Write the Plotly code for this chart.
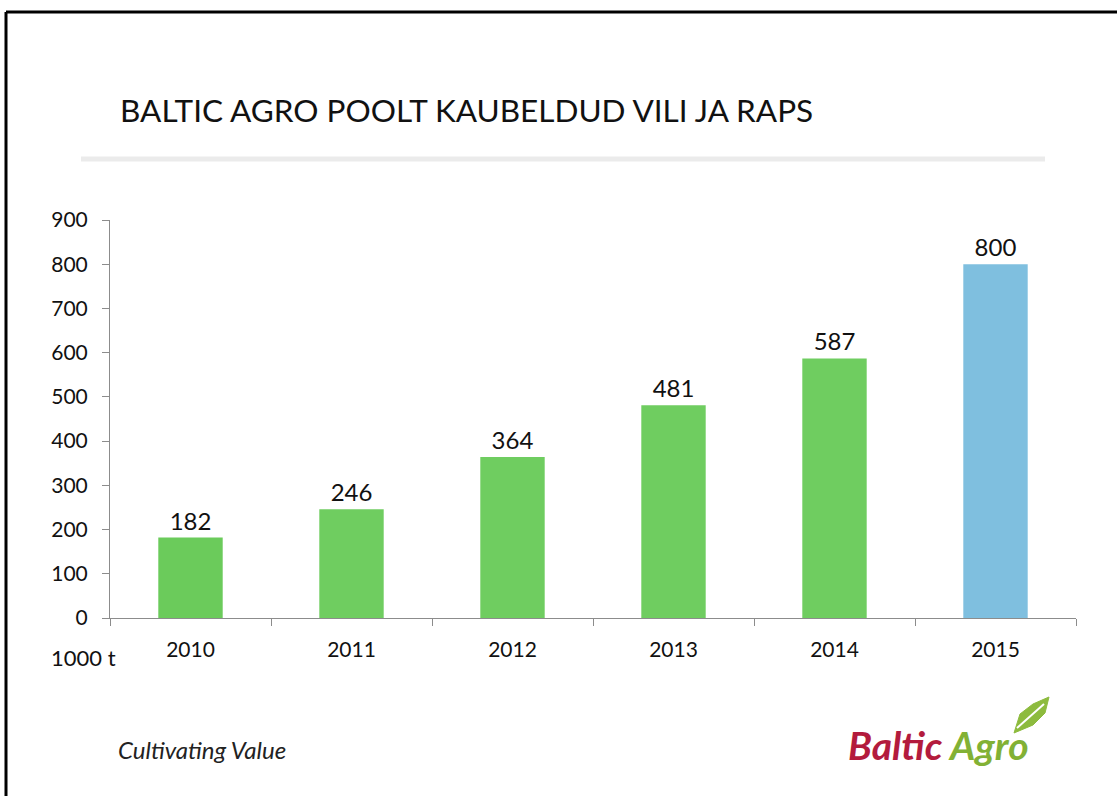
import plotly.graph_objects as go

years = ["2010", "2011", "2012", "2013", "2014", "2015"]
values = [182, 246, 364, 481, 587, 800]
bar_colors = ["#6bcb5b", "#6fcd60", "#6fcd60", "#6fcd60", "#6fcd60", "#7fbfdf"]
y_ticks = [0, 100, 200, 300, 400, 500, 600, 700, 800, 900]

W, H = 1117, 796
L, R, T, B = 110, 1076, 220, 618


def px(x):
    return (x - L) / (R - L)


def py(y):
    return (B - y) / (B - T)


FONT = "Lato, 'Open Sans', sans-serif"

fig = go.Figure(
    go.Bar(
        x=years,
        y=values,
        marker=dict(color=bar_colors, line=dict(width=0)),
        width=0.4,
        text=[str(v) for v in values],
        textposition="outside",
        textfont=dict(size=24, color="#111111", family=FONT),
        cliponaxis=False,
    )
)

fig.update_layout(
    width=W,
    height=H,
    margin=dict(l=L, r=W - R, t=T, b=H - B),
    paper_bgcolor="white",
    plot_bgcolor="rgba(0,0,0,0)",
    showlegend=False,
    font=dict(family=FONT, color="#111111"),
)
fig.update_yaxes(
    range=[0, 900],
    tickvals=y_ticks,
    showgrid=False,
    zeroline=False,
    showline=True,
    linecolor="#8c8c8c",
    linewidth=1,
    ticks="outside",
    ticklen=7,
    tickcolor="#8c8c8c",
    tickfont=dict(size=21, color="#111111", family=FONT),
    ticklabelstandoff=10,
)
fig.update_xaxes(
    type="category",
    showgrid=False,
    showline=True,
    linecolor="#8c8c8c",
    linewidth=1,
    ticks="outside",
    tickson="boundaries",
    ticklen=7,
    tickcolor="#8c8c8c",
    tickfont=dict(size=21, color="#111111", family=FONT),
    ticklabelstandoff=13,
)

shapes = []
# slide border (top and left)
shapes.append(dict(type="line", xref="paper", yref="paper", x0=px(6), x1=px(1117), y0=py(12), y1=py(12),
                   line=dict(color="black", width=3)))
shapes.append(dict(type="line", xref="paper", yref="paper", x0=px(6), x1=px(6), y0=py(12), y1=py(796),
                   line=dict(color="black", width=3)))
# grey separator under title
shapes.append(dict(type="line", xref="paper", yref="paper", x0=px(81), x1=px(1045), y0=py(159), y1=py(159),
                   line=dict(color="#ebebeb", width=5)))
# leaf in logo
leaf_pts = [(1014, 733), (1020, 714), (1033, 704), (1049, 697), (1045, 713), (1033, 725), (1014, 733)]
path = "M " + " L ".join(f"{px(x):.5f},{py(y):.5f}" for x, y in leaf_pts) + " Z"
shapes.append(dict(type="path", xref="paper", yref="paper", path=path,
                   fillcolor="#8dbb3e", line=dict(color="#8dbb3e", width=1)))
shapes.append(dict(type="line", xref="paper", yref="paper", x0=px(1017), x1=px(1044), y0=py(728), y1=py(704),
                   line=dict(color="white", width=2)))
fig.update_layout(shapes=shapes)

annotations = [
    dict(text="BALTIC AGRO POOLT KAUBELDUD VILI JA RAPS", x=px(118), y=py(110), xref="paper", yref="paper",
         showarrow=False, xanchor="left", yanchor="middle", font=dict(size=31.5, color="#111111", family=FONT)),
    dict(text="1000 t", x=px(118), y=py(657), xref="paper", yref="paper", showarrow=False,
         xanchor="right", yanchor="middle", font=dict(size=22, color="#111111", family=FONT)),
    dict(text="<i>Cultivating Value</i>", x=px(116), y=py(749), xref="paper", yref="paper", showarrow=False,
         xanchor="left", yanchor="middle", font=dict(size=24, color="#222222", family=FONT)),
    dict(text="<b><i><span style='color:#b31b3d'>Baltic</span> <span style='color:#82b135'>Agro</span></i></b>",
         x=px(846), y=py(745), xref="paper", yref="paper", showarrow=False,
         xanchor="left", yanchor="middle", font=dict(size=39, color="#b31b3d", family=FONT)),
]
fig.update_layout(annotations=annotations)

fig.write_html("out.html", config={"displayModeBar": False},
               post_script="document.body.style.margin='0';")
